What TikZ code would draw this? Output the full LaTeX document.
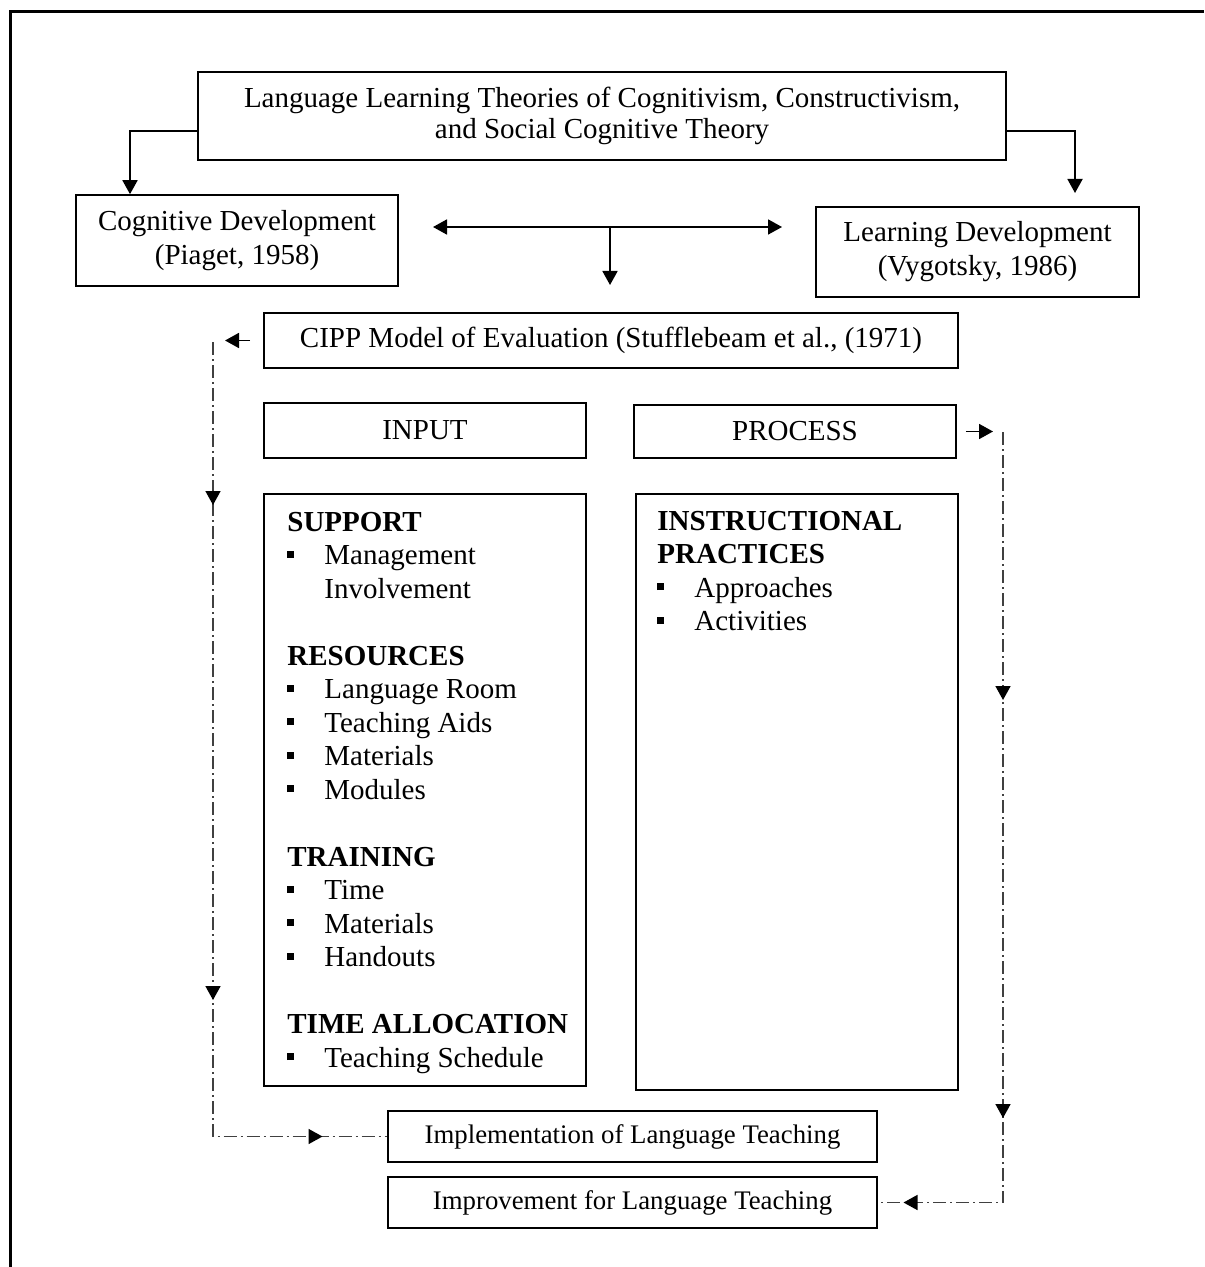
\documentclass[tikz,border=0pt]{standalone}
\usepackage{fontspec}
\setmainfont{Liberation Serif}
\usetikzlibrary{arrows.meta,decorations.markings}

% heading and bullet item of the two lists
\newcommand{\grouphead}[1]{\textbf{#1}}
\newcommand{\bitem}[1]{\makebox[18.5pt][l]{\rule[3.5pt]{3.5pt}{3.5pt}}#1}
\newcommand{\bitemcont}[1]{\hspace*{18.5pt}#1}

\begin{document}
\begin{tikzpicture}[x=0.5pt,y=-0.5pt]

% styles
\tikzset{
	box/.style = {draw, line width=0.8pt, inner sep=0pt, align=center,
		font=\fontsize{14.5}{17}\selectfont},
	smallbox/.style = {box, font=\fontsize{13.4}{15}\selectfont},
	listline/.style = {anchor=base west, inner sep=0pt,
		font=\fontsize{14.5}{17}\selectfont},
	ftip/.tip = {Triangle[length=7pt,width=7.5pt]},
	arr/.style = {line width=0.9pt, -ftip},
	dashdot/.style = {line width=0.8pt, black!75,
		dash pattern=on 6.5pt off 2pt on 1pt off 2pt}
}

\useasboundingbox (0,0) rectangle (1204,1267);

% frame
\draw[line width=1.5pt] (10,1267) -- (10,11.5) -- (1204,11.5);

% theories
\node[box,minimum width=404pt,minimum height=44pt,
	font=\fontsize{14.5}{15.5}\selectfont] (theory) at (602,116)
	{Language Learning Theories of Cognitivism, Constructivism,\\and Social Cognitive Theory};
\node[box,minimum width=161pt,minimum height=45.5pt] (cog) at (237,240.5)
	{Cognitive Development\\(Piaget, 1958)};
\node[box,minimum width=161.5pt,minimum height=45pt] (learn) at (977.5,252)
	{Learning Development\\(Vygotsky, 1986)};

% CIPP
\node[box,minimum width=347pt,minimum height=27.5pt] (cipp) at (611,340.5)
	{CIPP Model of Evaluation (Stufflebeam et al., (1971)};
\node[box,minimum width=161pt,minimum height=27.5pt] (input) at (425,430.5) {INPUT};
\node[box,minimum width=161pt,minimum height=26.5pt] (process) at (795,431.5) {PROCESS};
\node[box,minimum width=161pt,minimum height=296pt] (inbox) at (425,790) {};
\node[box,minimum width=161pt,minimum height=298pt] (procbox) at (797,792) {};

\foreach \k/\txt in {0/{\grouphead{SUPPORT}},1/{\bitem{Management}},
		2/{\bitemcont{Involvement}},4/{\grouphead{RESOURCES}},
		5/{\bitem{Language Room}},6/{\bitem{Teaching Aids}},
		7/{\bitem{Materials}},8/{\bitem{Modules}},
		10/{\grouphead{TRAINING}},11/{\bitem{Time}},
		12/{\bitem{Materials}},13/{\bitem{Handouts}},
		15/{\grouphead{TIME ALLOCATION}},16/{\bitem{Teaching Schedule}}}
	\node[listline] (in\k) at (287,531+33.5*\k) {\txt};

\foreach \k/\txt in {0/{\grouphead{INSTRUCTIONAL}},1/{\grouphead{PRACTICES}},
		2/{\bitem{Approaches}},3/{\bitem{Activities}}}
	\node[listline] (pr\k) at (657,530+33.5*\k) {\txt};

% outcome
\node[smallbox,minimum width=244.5pt,minimum height=25.5pt] (impl) at (632.5,1136.5)
	{Implementation of Language Teaching};
\node[smallbox,minimum width=244.5pt,minimum height=25.5pt] (impr) at (632.5,1202.5)
	{Improvement for Language Teaching};

% solid arrows
\coordinate (tl) at (130,131);
\draw[arr] (tl -| theory.west) -- (tl) -- (tl |- cog.north);
\coordinate (tr) at (1075,131);
\coordinate (trend) at (1075,193);
\draw[arr] (tr -| theory.east) -- (tr) -- (trend);

\coordinate (hl) at (433,227);
\coordinate (hr) at (782,227);
\coordinate (hm) at (610,227);
\coordinate (hd) at (610,285);
\draw[line width=0.9pt,ftip-ftip] (hl) -- (hr);
\draw[arr] (hm) -- (hd);

\coordinate (cl) at (225,340.5);
\draw[arr] ([xshift=-6.5pt]cipp.west) -- (cl);
\coordinate (pr) at (993,431.5);
\draw[arr] ([xshift=4.5pt]process.east) -- (pr);

% dash-dot loops
\coordinate (ltop) at (213,342);
\coordinate (lbot) at (213,1136.5);
\draw[dashdot,postaction={decorate},decoration={markings,
		mark=at position 81.5pt with {\arrow[black]{ftip}},
		mark=at position 329pt with {\arrow[black]{ftip}},
		mark=at position 452pt with {\arrow[black]{ftip}}}]
	(ltop) -- (lbot) -- (impl.west);

\coordinate (rtop) at (1003,432);
\coordinate (rbot) at (1003,1202.5);
\draw[dashdot,postaction={decorate},decoration={markings,
		mark=at position 134pt with {\arrow[black]{ftip}},
		mark=at position 343pt with {\arrow[black]{ftip}},
		mark=at position 435pt with {\arrow[black]{ftip}}}]
	(rtop) -- (rbot) -- (impr.east);

\end{tikzpicture}
\end{document}
